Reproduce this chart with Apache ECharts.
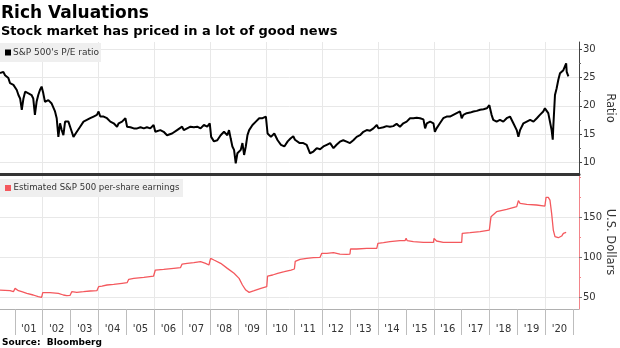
<!DOCTYPE html>
<html>
<head>
<meta charset="utf-8">
<script src="https://cdn.jsdelivr.net/npm/echarts@6/dist/echarts.min.js"></script>
<style>
  html, body { margin: 0; padding: 0; background: #fff; }
  #chart { width: 620px; height: 348px; }
</style>
</head>
<body>
<div id="chart"></div>
<script>
// S&P 500 price/earnings ratio (decimal year, ratio)
const peYears = [
  2000.47, 2000.59, 2000.65, 2000.77, 2000.83, 2000.95, 2001.07, 2001.13, 2001.19, 2001.25,
  2001.31, 2001.37, 2001.49, 2001.60, 2001.66, 2001.72, 2001.78, 2001.84, 2001.90, 2001.96,
  2002.02, 2002.08, 2002.14, 2002.20, 2002.32, 2002.44, 2002.50, 2002.56, 2002.62, 2002.68,
  2002.74, 2002.80, 2002.86, 2002.92, 2002.98, 2003.04, 2003.10, 2003.16, 2003.22, 2003.34,
  2003.46, 2003.58, 2003.70, 2003.82, 2003.94, 2004.00, 2004.06, 2004.18, 2004.30, 2004.42,
  2004.54, 2004.66, 2004.72, 2004.84, 2004.96, 2005.02, 2005.14, 2005.26, 2005.38, 2005.50,
  2005.62, 2005.73, 2005.85, 2005.97, 2006.03, 2006.21, 2006.33, 2006.45, 2006.51, 2006.63,
  2006.81, 2006.99, 2007.05, 2007.17, 2007.29, 2007.41, 2007.53, 2007.65, 2007.77, 2007.89,
  2007.98, 2008.03, 2008.13, 2008.25, 2008.37, 2008.49, 2008.61, 2008.67, 2008.73, 2008.79,
  2008.85, 2008.91, 2008.97, 2009.09, 2009.15, 2009.21, 2009.27, 2009.33, 2009.39, 2009.51,
  2009.63, 2009.75, 2009.87, 2009.93, 2009.99, 2010.05, 2010.17, 2010.29, 2010.35, 2010.41,
  2010.53, 2010.65, 2010.77, 2010.87, 2010.97, 2011.03, 2011.10, 2011.20, 2011.33, 2011.45,
  2011.51, 2011.57, 2011.63, 2011.69, 2011.81, 2011.93, 2012.05, 2012.17, 2012.29, 2012.41,
  2012.52, 2012.64, 2012.76, 2012.88, 2013.00, 2013.12, 2013.24, 2013.36, 2013.48, 2013.60,
  2013.72, 2013.84, 2013.96, 2014.02, 2014.08, 2014.20, 2014.31, 2014.43, 2014.55, 2014.67,
  2014.79, 2014.91, 2015.03, 2015.15, 2015.27, 2015.39, 2015.51, 2015.63, 2015.69, 2015.75,
  2015.87, 2015.99, 2016.04, 2016.10, 2016.22, 2016.34, 2016.46, 2016.58, 2016.70, 2016.82,
  2016.94, 2017.00, 2017.06, 2017.18, 2017.30, 2017.42, 2017.54, 2017.66, 2017.78, 2017.90,
  2017.99, 2018.07, 2018.13, 2018.25, 2018.37, 2018.49, 2018.61, 2018.73, 2018.79, 2018.85,
  2018.97, 2019.03, 2019.09, 2019.21, 2019.33, 2019.45, 2019.57, 2019.69, 2019.80, 2019.92,
  2019.98, 2020.04, 2020.10, 2020.16, 2020.22, 2020.26, 2020.28, 2020.34, 2020.40, 2020.46,
  2020.52, 2020.58, 2020.64, 2020.70, 2020.74, 2020.76, 2020.82
];
const peRatio = [
  25.8, 26.0, 25.4, 24.9, 24.0, 23.7, 22.8, 21.9, 21.3, 19.3,
  21.3, 22.5, 22.2, 21.9, 21.3, 18.4, 20.7, 21.9, 22.8, 23.4,
  22.2, 20.7, 20.4, 21.0, 20.4, 19.0, 17.8, 14.5, 16.9, 15.7,
  14.8, 17.2, 17.5, 17.2, 16.3, 15.4, 14.5, 14.8, 15.4, 16.3,
  17.2, 17.5, 17.8, 18.1, 18.4, 19.0, 18.1, 18.1, 17.8, 17.2,
  16.9, 16.3, 16.9, 17.2, 17.8, 16.3, 16.2, 16.0, 16.0, 16.2,
  16.0, 16.2, 16.0, 16.6, 15.4, 15.7, 15.4, 14.8, 14.5, 15.1,
  15.7, 16.3, 15.7, 16.0, 16.3, 16.2, 16.3, 16.0, 16.6, 16.3,
  16.9, 14.5, 13.7, 13.9, 14.8, 15.4, 14.8, 15.7, 14.2, 12.8,
  12.2, 9.8, 11.6, 12.2, 13.4, 11.3, 12.8, 14.8, 15.7, 16.6,
  17.2, 17.8, 17.8, 17.5, 18.1, 15.1, 14.5, 15.1, 15.4, 13.9,
  13.1, 12.8, 13.7, 14.2, 14.6, 14.0, 13.7, 13.4, 13.4, 13.1,
  12.8, 11.6, 11.3, 11.9, 12.5, 12.3, 12.8, 13.1, 13.4, 12.5,
  13.1, 13.65, 13.9, 13.65, 13.4, 13.9, 14.5, 14.8, 15.4, 15.7,
  15.6, 16.0, 16.6, 16.0, 16.0, 16.2, 16.4, 16.3, 16.4, 16.8,
  16.3, 16.9, 17.2, 17.8, 17.8, 17.9, 17.8, 17.6, 16.0, 16.9,
  17.2, 16.9, 15.4, 16.0, 16.9, 17.8, 18.1, 18.1, 18.4, 18.7,
  19.0, 17.8, 18.4, 18.7, 18.8, 19.0, 19.1, 19.3, 19.4, 19.55,
  20.1, 18.4, 17.5, 17.2, 17.5, 17.2, 17.8, 18.1, 17.8, 16.9,
  15.7, 14.5, 15.7, 16.9, 17.2, 17.5, 17.2, 17.8, 18.4, 19.0,
  19.55, 19.3, 18.7, 18.4, 15.7, 14.0, 16.3, 21.9, 23.1, 24.6,
  25.75, 26.0, 26.3, 26.6, 27.5, 26.0, 25.2
];

// Estimated S&P 500 per-share earnings, U.S. dollars (decimal year, value)
const epsYears = [
  2000.47, 2000.83, 2000.95, 2001.01, 2001.13, 2001.25, 2001.43, 2001.66, 2001.84, 2001.96,
  2002.00, 2002.26, 2002.56, 2002.74, 2002.86, 2002.98, 2003.04, 2003.22, 2003.46, 2003.70,
  2003.94, 2004.00, 2004.12, 2004.30, 2004.54, 2004.84, 2005.02, 2005.08, 2005.26, 2005.62,
  2005.97, 2006.03, 2006.33, 2006.69, 2006.93, 2006.99, 2007.17, 2007.41, 2007.65, 2007.83,
  2007.95, 2008.01, 2008.13, 2008.37, 2008.61, 2008.85, 2009.03, 2009.15, 2009.27, 2009.39,
  2009.57, 2009.81, 2009.93, 2010.02, 2010.05, 2010.23, 2010.41, 2010.65, 2010.89, 2011.01,
  2011.04, 2011.21, 2011.45, 2011.69, 2011.93, 2011.99, 2012.17, 2012.41, 2012.64, 2012.88,
  2013.00, 2013.02, 2013.24, 2013.60, 2013.96, 2014.00, 2014.20, 2014.43, 2014.79, 2014.97,
  2015.01, 2015.05, 2015.27, 2015.63, 2015.99, 2016.01, 2016.10, 2016.34, 2016.70, 2017.00,
  2017.02, 2017.30, 2017.66, 2017.99, 2018.05, 2018.25, 2018.61, 2018.97, 2019.03, 2019.09,
  2019.33, 2019.68, 2019.98, 2020.02, 2020.10, 2020.16, 2020.22, 2020.28, 2020.34, 2020.46,
  2020.58, 2020.64, 2020.74
];
const epsValues = [
  59.6, 58.8, 57.5, 61.7, 58.8, 57.5, 55.5, 53.4, 51.3, 50.5,
  56.3, 56.3, 55.5, 53.4, 52.5, 53.0, 57.5, 56.7, 57.5, 58.4,
  58.8, 63.8, 64.6, 65.9, 66.7, 68.0, 68.8, 73.0, 74.2, 75.5,
  77.1, 84.6, 85.5, 86.7, 87.5, 92.1, 93.0, 93.8, 95.0, 93.0,
  90.9, 99.2, 97.1, 93.0, 86.7, 80.5, 74.2, 65.9, 59.6, 56.7,
  58.8, 61.7, 63.0, 63.8, 77.1, 78.4, 80.5, 82.5, 84.6, 85.9,
  95.5, 98.0, 99.2, 100.0, 100.5, 105.5, 105.5, 106.3, 104.6, 104.2,
  104.6, 110.9, 110.9, 111.7, 111.7, 118.0, 118.8, 120.0, 121.3, 121.3,
  124.2, 121.3, 120.0, 119.2, 119.2, 124.2, 120.9, 119.2, 119.2, 119.2,
  130.5, 131.3, 132.5, 134.6, 151.3, 157.5, 160.5, 163.8, 171.3, 168.0,
  166.7, 165.9, 164.6, 175.5, 175.5, 172.1, 155.5, 134.6, 126.3, 125.0,
  127.1, 130.5, 131.7
];

// Axis ticks and labels
const ratioTicks = [10, 15, 20, 25, 30];
const ratioMinorTicks = [12.5, 17.5, 22.5, 27.5];
const dollarTicks = [50, 100, 150];
const dollarMinorTicks = [75, 125, 175, 200];
const gridYears = [2002, 2004, 2006, 2008, 2010, 2012, 2014, 2016, 2018, 2020];
const tickYears = [2001, 2002, 2003, 2004, 2005, 2006, 2007, 2008, 2009, 2010, 2011,
  2012, 2013, 2014, 2015, 2016, 2017, 2018, 2019, 2020, 2021];
const yearLabels = ["'01", "'02", "'03", "'04", "'05", "'06", "'07", "'08", "'09", "'10",
  "'11", "'12", "'13", "'14", "'15", "'16", "'17", "'18", "'19", "'20"];
const labelYears = yearLabels.map((_, i) => tickYears[i] + 0.5);

const FONT = 'DejaVu Sans';
const PE_COLOR = '#000000';
const EPS_COLOR = '#f4585d';
const X_MIN = 2000.47, X_MAX = 2021.2;

const zip = (xs, ys) => xs.map((x, i) => [x, ys[i]]);

const chart = echarts.init(document.getElementById('chart'), null, { renderer: 'canvas' });

const gridLine = { show: true, lineStyle: { color: '#e8e8e8', width: 1 } };

function label(text, x, y, size, weight, fill) {
  return { type: 'text', x: x, y: y, z: 200, silent: true,
    style: { text: text, fontFamily: FONT, fontSize: size, fontWeight: weight,
      fill: fill, verticalAlign: 'middle', align: 'left' } };
}

chart.setOption({
  animation: false,
  backgroundColor: '#ffffff',
  textStyle: { fontFamily: FONT },
  grid: [
    { left: 0, right: 41, top: 42, height: 132, outerBoundsMode: 'none', containLabel: false },
    { left: 0, right: 41, top: 175, height: 134, outerBoundsMode: 'none', containLabel: false }
  ],
  xAxis: [
    { gridIndex: 0, type: 'value', min: X_MIN, max: X_MAX,
      axisLine: { show: true, lineStyle: { color: '#353535', width: 3 } },
      axisTick: { show: false, customValues: gridYears },
      axisLabel: { show: false },
      splitLine: gridLine },
    { gridIndex: 1, type: 'value', min: X_MIN, max: X_MAX,
      axisLine: { show: true, lineStyle: { color: '#b0b0b0', width: 1 } },
      axisTick: { show: false, customValues: gridYears },
      axisLabel: { show: false },
      splitLine: gridLine },
    { gridIndex: 1, type: 'value', min: X_MIN, max: X_MAX, position: 'bottom',
      axisLine: { show: false },
      axisTick: { show: true, customValues: tickYears, length: 26,
        lineStyle: { color: '#bdbdbd', width: 1 } },
      axisLabel: { show: true, customValues: labelYears, margin: 15,
        fontFamily: FONT, fontSize: 10, color: '#333',
        formatter: v => yearLabels[Math.round(v - 2001.5)] || '' },
      splitLine: { show: false } }
  ],
  yAxis: [
    { gridIndex: 0, type: 'value', position: 'right', min: 7.93, max: 31.29,
      name: 'Ratio', nameLocation: 'middle', nameRotate: -90, nameGap: 25, nameMoveOverlap: false,
      nameTextStyle: { fontFamily: FONT, fontSize: 11.5, color: '#333' },
      axisLine: { show: true, lineStyle: { color: '#444', width: 1 } },
      axisTick: { show: true, customValues: ratioTicks, length: 3, lineStyle: { color: '#444' } },
      axisLabel: { show: true, customValues: ratioTicks, margin: 4,
        fontFamily: FONT, fontSize: 10, color: '#333' },
      splitLine: gridLine },
    { gridIndex: 0, type: 'value', position: 'right', min: 7.93, max: 31.29,
      axisLine: { show: false },
      axisTick: { show: true, customValues: ratioMinorTicks, length: 2, lineStyle: { color: '#666' } },
      axisLabel: { show: false },
      splitLine: { show: false } },
    { gridIndex: 1, type: 'value', position: 'right', min: 35.9, max: 203.4,
      name: 'U.S. Dollars', nameLocation: 'middle', nameRotate: -90, nameGap: 25, nameMoveOverlap: false,
      nameTextStyle: { fontFamily: FONT, fontSize: 11.5, color: '#333' },
      axisLine: { show: true, lineStyle: { color: '#f3848a', width: 1 } },
      axisTick: { show: true, customValues: dollarTicks, length: 3, lineStyle: { color: '#777' } },
      axisLabel: { show: true, customValues: dollarTicks, margin: 4,
        fontFamily: FONT, fontSize: 10, color: '#333' },
      splitLine: gridLine },
    { gridIndex: 1, type: 'value', position: 'right', min: 35.9, max: 203.4,
      axisLine: { show: false },
      axisTick: { show: true, customValues: dollarMinorTicks, length: 2, lineStyle: { color: '#f3848a' } },
      axisLabel: { show: false },
      splitLine: { show: false } }
  ],
  series: [
    { name: "S&P 500's P/E ratio", type: 'line', xAxisIndex: 0, yAxisIndex: 0,
      data: zip(peYears, peRatio), showSymbol: false, symbol: 'none',
      lineStyle: { color: PE_COLOR, width: 2 }, z: 5 },
    { name: 'Estimated S&P 500 per-share earnings', type: 'line', xAxisIndex: 1, yAxisIndex: 2,
      data: zip(epsYears, epsValues), showSymbol: false, symbol: 'none',
      lineStyle: { color: EPS_COLOR, width: 1.3 }, z: 5 }
  ],
  graphic: [
    label('Rich Valuations', 1, 14, 17, 'bold', '#000'),
    label('Stock market has priced in a lot of good news', 1, 31.5, 13, 'bold', '#000'),
    label('Source:  Bloomberg', 2, 343, 9, 'bold', '#000'),
    { type: 'rect', z: 150, silent: true, shape: { x: 0, y: 43, width: 101, height: 19 }, style: { fill: '#efefef' } },
    { type: 'rect', z: 160, silent: true, shape: { x: 5, y: 49.5, width: 6, height: 6 }, style: { fill: PE_COLOR } },
    label("S&P 500's P/E ratio", 13, 52.5, 9, 'normal', '#333'),
    { type: 'rect', z: 150, silent: true, shape: { x: 0, y: 179, width: 183, height: 18 }, style: { fill: '#efefef' } },
    { type: 'rect', z: 160, silent: true, shape: { x: 5, y: 185, width: 6, height: 6 }, style: { fill: EPS_COLOR } },
    label('Estimated S&P 500 per-share earnings', 13.5, 188, 8.6, 'normal', '#333')
  ]
});
</script>
</body>
</html>
